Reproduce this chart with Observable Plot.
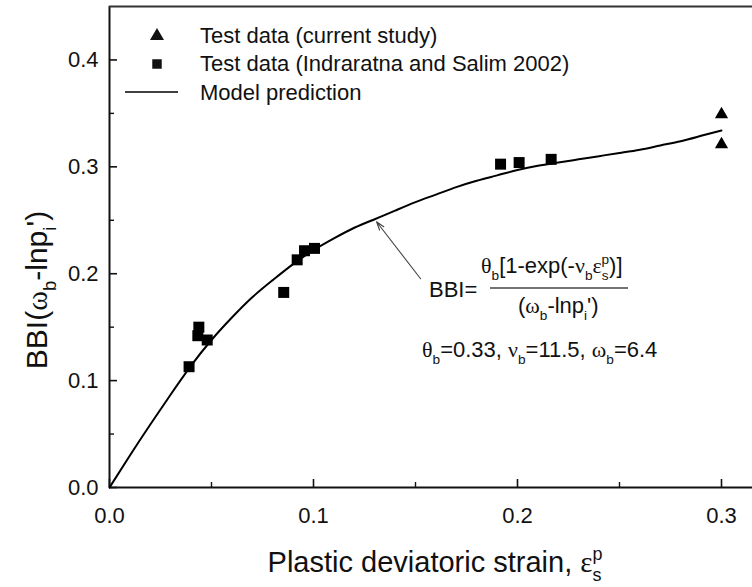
<!DOCTYPE html>
<html>
<head>
<meta charset="utf-8">
<script src="https://cdn.jsdelivr.net/npm/d3@7"></script>
<script src="https://cdn.jsdelivr.net/npm/@observablehq/plot@0.6"></script>
<style>
  html, body { margin: 0; padding: 0; background: #fff; overflow: hidden; }
  #chart svg { display: block; }
</style>
</head>
<body>
<div id="chart"></div>
<script>
// Model prediction curve: plastic deviatoric strain vs BBI(ωb - ln p'i)
const strainModel = [0, 0.01, 0.02, 0.03, 0.04, 0.05, 0.06, 0.07, 0.08, 0.09, 0.1,
  0.11, 0.12, 0.13, 0.14, 0.15, 0.16, 0.17, 0.18, 0.19, 0.2,
  0.21, 0.22, 0.23, 0.24, 0.25, 0.26, 0.27, 0.28, 0.29, 0.3];
const bbiModel = [0, 0.030, 0.059, 0.087, 0.114, 0.138, 0.159, 0.178, 0.194, 0.209, 0.222,
  0.233, 0.243, 0.251, 0.259, 0.267, 0.274, 0.281, 0.287, 0.292, 0.297,
  0.301, 0.304, 0.307, 0.310, 0.313, 0.316, 0.320, 0.324, 0.329, 0.334];

// Test data (current study)
const strainCurrent = [0.300, 0.300];
const bbiCurrent = [0.349, 0.321];

// Test data (Indraratna and Salim 2002)
const strainIS2002 = [0.039, 0.0433, 0.0438, 0.0479, 0.0854, 0.092, 0.0956, 0.1005, 0.1917, 0.2008, 0.2165];
const bbiIS2002 = [0.113, 0.142, 0.150, 0.138, 0.1825, 0.213, 0.2215, 0.2237, 0.3025, 0.304, 0.307];

// Axis ticks
const xMajor = [0, 0.1, 0.2, 0.3];
const xMinor = [0.05, 0.15, 0.25];
const yMajor = [0, 0.1, 0.2, 0.3, 0.4];
const yMinor = [0.05, 0.15, 0.25, 0.35];

// Pointer from the formula to the curve (tail, head)
const pointerStrain = [0.1525, 0.1309];
const pointerBBI = [0.1953, 0.2486];

const W = 752, H = 587;
const mL = 109, mR = 0, mT = 6, mB = 100;
const plotW = W - mL - mR, plotH = H - mT - mB;
const sans = "'Liberation Sans', Arial, Helvetica, sans-serif";
const serif = "'Liberation Serif', 'Times New Roman', serif";
const ink = "#111";

const modelRows = strainModel.map((x, i) => ({x, y: bbiModel[i]}));
const currentRows = strainCurrent.map((x, i) => ({x, y: bbiCurrent[i]}));
const isRows = strainIS2002.map((x, i) => ({x, y: bbiIS2002[i]}));

const chart = Plot.plot({
  width: W, height: H,
  marginLeft: mL, marginRight: mR, marginTop: mT, marginBottom: mB,
  style: {fontFamily: sans, fontSize: "22px", color: ink, background: "#fff"},
  x: {domain: [0, plotW / 2040], ticks: xMajor},
  y: {domain: [0, 0.45], ticks: yMajor},
  marks: [
    // inward tick marks
    Plot.tickX(xMajor, {x: d => d, insetTop: plotH - 8, stroke: ink, strokeWidth: 1.6}),
    Plot.tickX(xMinor, {x: d => d, insetTop: plotH - 5, stroke: ink, strokeWidth: 1.4}),
    Plot.tickY(yMajor, {y: d => d, insetRight: plotW - 8, stroke: ink, strokeWidth: 1.6}),
    Plot.tickY(yMinor, {y: d => d, insetRight: plotW - 5, stroke: ink, strokeWidth: 1.4}),
    Plot.axisX(xMajor, {tickSize: 0, tickPadding: 20, tickFormat: d3.format(".1f"), label: null, fill: ink}),
    Plot.axisY(yMajor, {tickSize: 0, tickPadding: 11, tickFormat: d3.format(".1f"), label: null, fill: ink}),
    // frame: left, bottom, top
    Plot.ruleX([0], {stroke: ink, strokeWidth: 2}),
    Plot.ruleY([0], {stroke: ink, strokeWidth: 2}),
    Plot.ruleY([0.45], {stroke: "#333", strokeWidth: 2}),
    // model curve
    Plot.line(modelRows, {x: "x", y: "y", stroke: "#000", strokeWidth: 2, curve: "natural"}),
    // measurements
    Plot.dot(isRows, {x: "x", y: "y", symbol: "square", r: 6.2, fill: "#000", stroke: null}),
    Plot.dot(currentRows, {x: "x", y: "y", symbol: "triangle", r: 4.9, fill: "#000", stroke: null}),
    // pointer
    Plot.arrow([0], {
      x1: () => pointerStrain[0], y1: () => pointerBBI[0],
      x2: () => pointerStrain[1], y2: () => pointerBBI[1],
      stroke: "#444", strokeWidth: 1.1, headLength: 12, headAngle: 35
    })
  ]
});
document.getElementById("chart").appendChild(chart);

const svg = d3.select(chart);
const g = svg.append("g").attr("fill", ink).attr("font-family", sans).attr("text-anchor", "start");

// text with sub/superscripts: parts are [string, kind, dx]
function rich(parent, x, y, size, parts, attrs = {}) {
  const t = parent.append("text").attr("x", x).attr("y", y).attr("font-size", size);
  for (const [k, v] of Object.entries(attrs)) t.attr(k, v);
  let shift = 0;
  for (const [s, kind, dx] of parts) {
    const ts = t.append("tspan").text(s);
    let target = 0, fs = null;
    if (kind === "sub") { target = 0.3 * size; fs = 0.62 * size; }
    else if (kind === "sup") { target = -0.42 * size; fs = 0.62 * size; }
    if (target - shift !== 0) ts.attr("dy", target - shift);
    shift = target;
    if (fs) ts.attr("font-size", fs);
    if (kind === "g") ts.attr("font-family", serif);
    if (dx) ts.attr("dx", dx);
  }
  return t;
}

// legend
const sym = d3.symbol();
g.append("path").attr("d", sym.type(d3.symbolTriangle).size(85)()).attr("transform", "translate(157,36)");
g.append("path").attr("d", sym.type(d3.symbolSquare).size(90)()).attr("transform", "translate(157,64)");
g.append("line").attr("x1", 125).attr("x2", 178).attr("y1", 92).attr("y2", 92)
  .attr("stroke", "#000").attr("stroke-width", 1.5);
const legendText = ["Test data (current study)", "Test data (Indraratna and Salim 2002)", "Model prediction"];
legendText.forEach((s, i) => {
  g.append("text").attr("x", 200).attr("y", [35, 63, 92][i] + 8).attr("font-size", 22).text(s);
});

// model formula
rich(g, 429, 297, 22, [["BBI=", "n"]]);
rich(g, 481, 273, 22, [
  ["θ", "g"], ["b", "sub"], ["[1-exp(-", "n"], ["ν", "g"], ["b", "sub"], ["ε", "g"],
  ["s", "sub"], ["p", "sup", -7], [")]", "n"]
]);
g.append("line").attr("x1", 490).attr("x2", 628).attr("y1", 288).attr("y2", 288)
  .attr("stroke", "#444").attr("stroke-width", 1.4);
rich(g, 518, 313, 22, [
  ["(", "n"], ["ω", "g"], ["b", "sub"], ["-lnp", "n"], ["i", "sub"], ["')", "n"]
]);
rich(g, 422, 357, 22, [
  ["θ", "g"], ["b", "sub"], ["=0.33, ", "n"], ["ν", "g"], ["b", "sub"], ["=11.5, ", "n"],
  ["ω", "g"], ["b", "sub"], ["=6.4", "n"]
]);

// axis titles
rich(g, 435, 572, 29, [["Plastic deviatoric strain, ", "n"], ["ε", "g"], ["s", "sub"], ["p", "sup", -9]],
  {"text-anchor": "middle"});
rich(g, 0, 0, 30, [
  ["BBI(", "n"], ["ω", "g"], ["b", "sub"], ["-lnp", "n"], ["i", "sub"], ["')", "n"]
], {"text-anchor": "middle", transform: "translate(47,290) rotate(-90)"});
</script>
</body>
</html>
